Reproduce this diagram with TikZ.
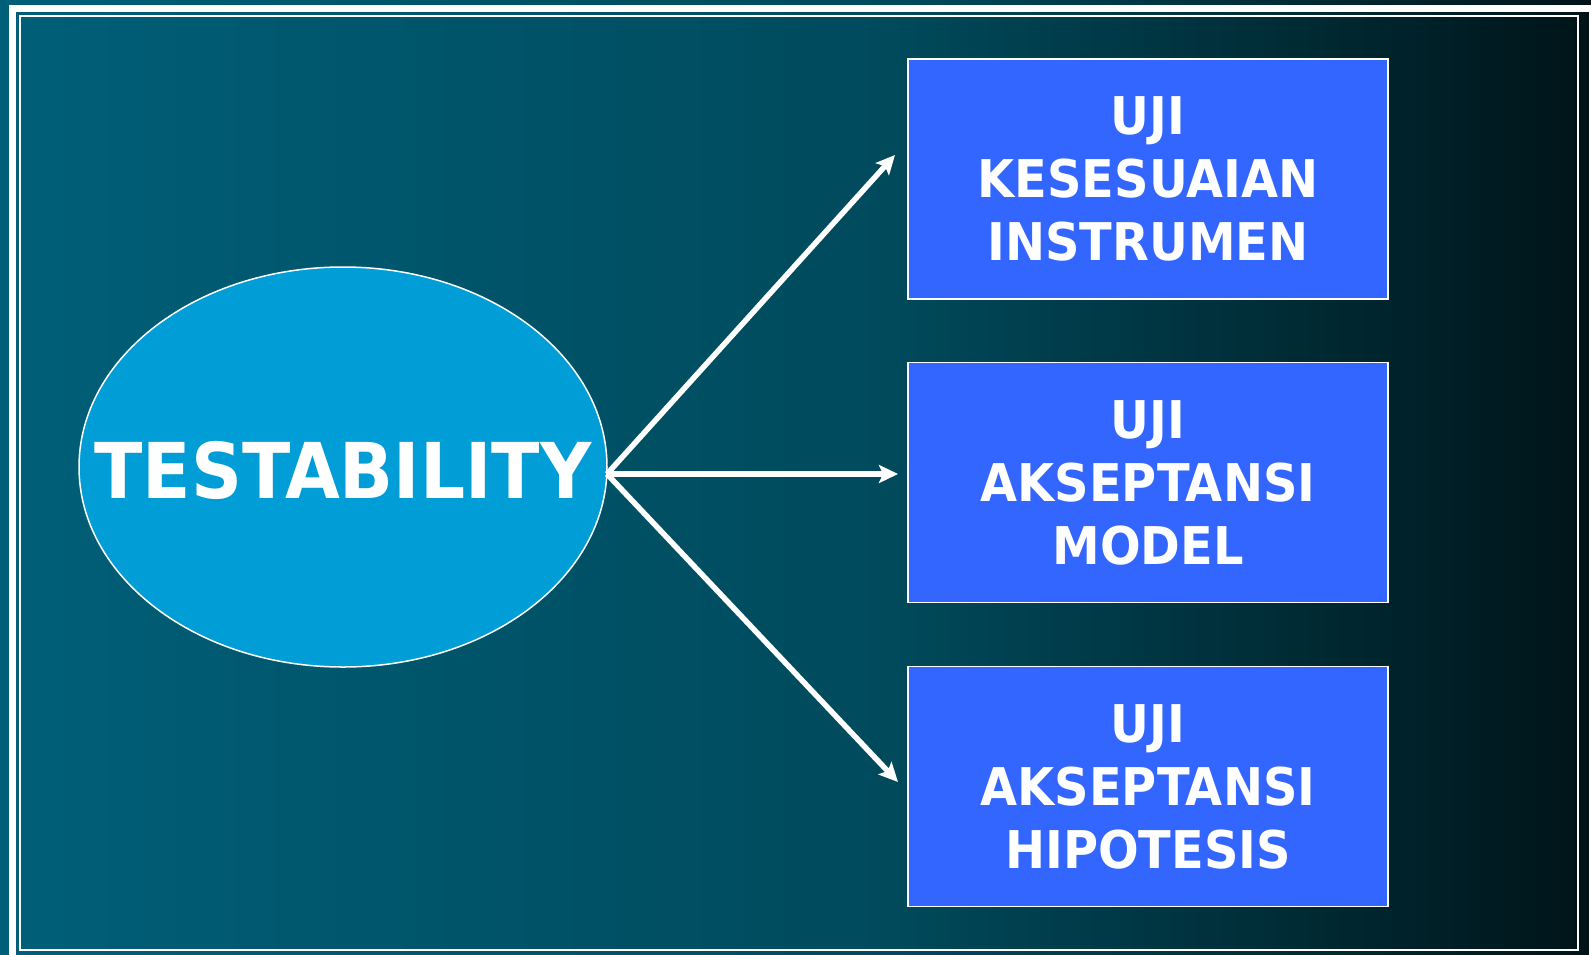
\documentclass[tikz,border=0pt]{standalone}
\usepackage{fontspec}
\newfontfamily\tfont[FakeStretch=0.92]{DejaVu Sans}
\usetikzlibrary{arrows.meta}
\definecolor{bgL}{HTML}{005F78}
\definecolor{bgM}{HTML}{004A5C}
\definecolor{bgR}{HTML}{001418}
\definecolor{ellfill}{HTML}{009DD7}
\definecolor{boxfill}{HTML}{3366FF}
\pgfdeclarehorizontalshading{bgshade}{100bp}{color(0bp)=(bgL); color(25bp)=(bgL); color(53bp)=(bgM); color(75bp)=(bgR); color(100bp)=(bgR)}
\tikzset{
  boxnode/.style={draw=white, line width=1.8pt, fill=boxfill, minimum width=480pt, minimum height=240pt, inner sep=0pt,
    text=white, align=center, font=\tfont\bfseries\fontsize{52}{63}\selectfont},
  arr/.style={draw=white, line width=5.5pt, -{Stealth[length=19pt,width=18pt,inset=4pt]}},
}
\begin{document}
\begin{tikzpicture}[x=1pt,y=-1pt]
\useasboundingbox (0,0) rectangle (1591,954);
\shade[shading=bgshade] (0,0) rectangle (1591,954);
\draw[white, line width=7pt] (12.5,8.5) rectangle (1592,958);
\draw[white, line width=2pt] (20,16) rectangle (1578,950);
\draw[white, line width=1.5pt, fill=ellfill] (343,467) ellipse [x radius=264, y radius=200];
\node[text=white, inner sep=0pt, font=\tfont\bfseries\fontsize{77}{90}\selectfont] (t) at (343,470) {TESTABILITY};
\coordinate (s) at (607,474);
\node[boxnode] (b1) at (1148,179) {UJI\\KESESUAIAN\\INSTRUMEN};
\node[boxnode] (b2) at (1148,482.5) {UJI\\AKSEPTANSI\\MODEL};
\node[boxnode] (b3) at (1148,786.5) {UJI\\AKSEPTANSI\\HIPOTESIS};
\coordinate (e1) at (895,155);
\coordinate (e2) at (898,474);
\coordinate (e3) at (898,782);
\draw[arr] (s) -- (e1);
\draw[arr] (s) -- (e2);
\draw[arr] (s) -- (e3);
\end{tikzpicture}
\end{document}
